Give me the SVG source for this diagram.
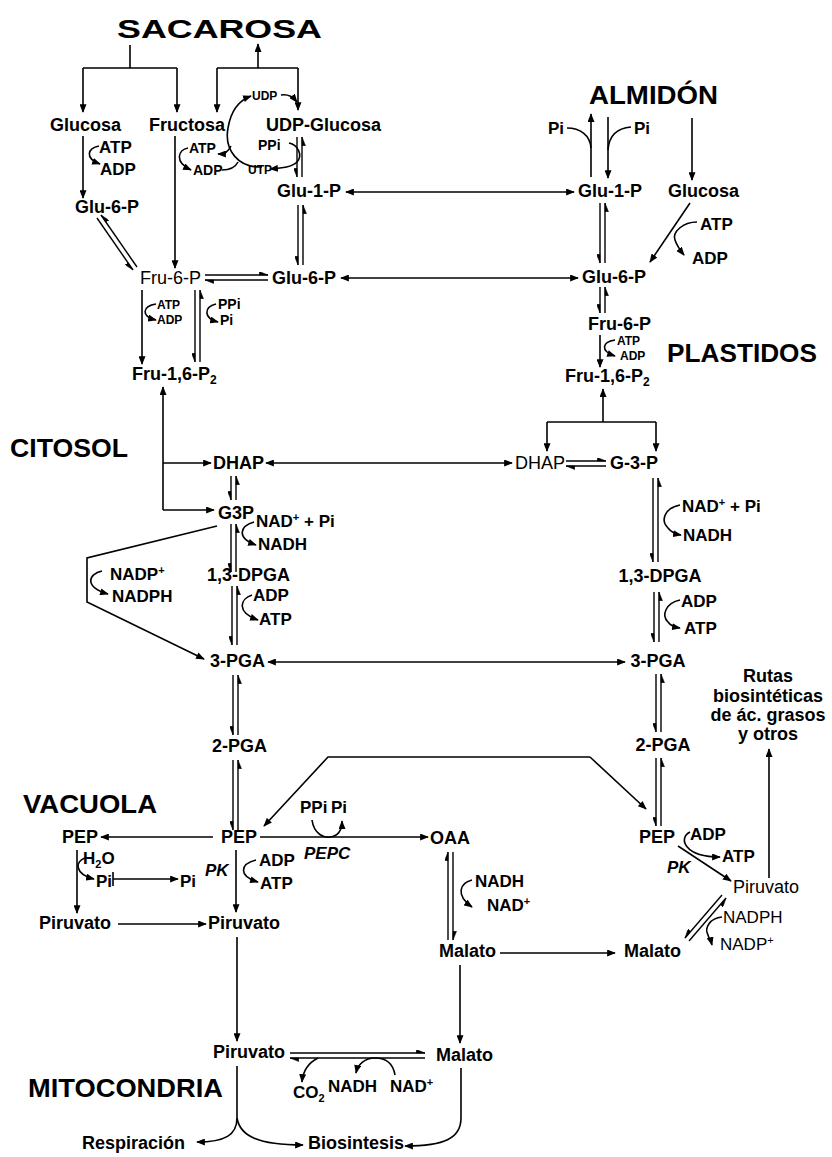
<svg xmlns="http://www.w3.org/2000/svg" width="832" height="1157" viewBox="0 0 832 1157">
<defs>
<marker id="ah" viewBox="0 0 10 8" refX="9" refY="4" markerWidth="9" markerHeight="7" markerUnits="userSpaceOnUse" orient="auto-start-reverse"><path d="M0,0 L10,4 L0,8 z" fill="#000"/></marker>
<marker id="hlo" viewBox="0 0 10 8" refX="10" refY="4" markerWidth="9" markerHeight="7" markerUnits="userSpaceOnUse" orient="auto"><path d="M0,4 L10,4 L0,8 z" fill="#000" stroke="#000" stroke-width="0.6"/></marker>
<marker id="hup" viewBox="0 0 10 8" refX="10" refY="4" markerWidth="9" markerHeight="7" markerUnits="userSpaceOnUse" orient="auto"><path d="M0,0 L10,4 L0,4 z" fill="#000" stroke="#000" stroke-width="0.6"/></marker>
<style>
.c{fill:none;stroke:#000;stroke-width:1.6}
.a{marker-end:url(#ah)}
.b{marker-start:url(#ah);marker-end:url(#ah)}
.h{fill:none;stroke:#000;stroke-width:1.4;marker-end:url(#hlo)}
.u{fill:none;stroke:#000;stroke-width:1.4;marker-end:url(#hup)}
text{font-family:"Liberation Sans",Arial,Helvetica,sans-serif;fill:#000}
.t{font-weight:bold;font-size:26px}
.n{font-weight:bold;font-size:18px}
.r{font-size:18px}
.f{font-weight:bold;font-size:17px}
.fr{font-size:17px}
.s{font-weight:bold;font-size:14px}
.x{font-weight:bold;font-size:12px}
.i{font-weight:bold;font-style:italic;font-size:17px}
.m{text-anchor:middle}
</style>
</defs>
<rect width="832" height="1157" fill="#fff"/>

<g id="titles">
<text class="t" x="117" y="38" font-size="33" textLength="205" lengthAdjust="spacingAndGlyphs">SACAROSA</text>
<text class="t" x="589" y="104" textLength="129" lengthAdjust="spacingAndGlyphs">ALMIDÓN</text>
<text class="t" x="667" y="362" textLength="150" lengthAdjust="spacingAndGlyphs">PLASTIDOS</text>
<text class="t" x="10" y="457" textLength="118" lengthAdjust="spacingAndGlyphs">CITOSOL</text>
<text class="t" x="23" y="813" textLength="134" lengthAdjust="spacingAndGlyphs">VACUOLA</text>
<text class="t" x="28" y="1097" textLength="195" lengthAdjust="spacingAndGlyphs">MITOCONDRIA</text>
</g>

<g id="n-glucosa"><text class="n" x="50" y="131">Glucosa</text></g>
<g id="n-fructosa"><text class="n" x="149" y="131">Fructosa</text></g>
<g id="n-udpglucosa"><text class="n" x="266" y="131">UDP-Glucosa</text></g>
<g id="n-udp"><text class="x" x="252" y="100">UDP</text></g>
<g id="n-ppi1"><text class="s" x="258" y="150">PPi</text></g>
<g id="n-utp"><text class="x" x="248" y="174">UTP</text></g>
<g id="n-atp-fr"><text class="s" x="189" y="153">ATP</text></g>
<g id="n-adp-fr"><text class="s" x="193" y="175">ADP</text></g>
<g id="n-atp-gl"><text class="f" x="99" y="153">ATP</text></g>
<g id="n-adp-gl"><text class="f" x="100" y="175">ADP</text></g>
<g id="n-glu6p-l"><text class="n" x="75" y="213">Glu-6-P</text></g>
<g id="n-glu1p-c"><text class="n" x="277" y="197">Glu-1-P</text></g>
<g id="n-fru6p-c"><text class="r" x="140" y="284">Fru-6-P</text></g>
<g id="n-glu6p-c"><text class="n" x="272" y="284">Glu-6-P</text></g>

<g id="n-pi-pl1"><text class="f" x="548" y="134">Pi</text></g>
<g id="n-pi-pl2"><text class="f" x="634" y="134">Pi</text></g>
<g id="n-glu1p-p"><text class="n" x="578" y="197">Glu-1-P</text></g>
<g id="n-glucosa-p"><text class="n" x="668" y="197">Glucosa</text></g>
<g id="n-atp-p1"><text class="f" x="700" y="230">ATP</text></g>
<g id="n-adp-p1"><text class="f" x="692" y="264">ADP</text></g>
<g id="n-glu6p-p"><text class="n" x="582" y="283">Glu-6-P</text></g>
<g id="n-fru6p-p"><text class="n" x="588" y="330">Fru-6-P</text></g>
<g id="n-atp-p2"><text class="x" x="617" y="345" font-size="11">ATP</text></g>
<g id="n-adp-p2"><text class="x" x="620" y="360" font-size="11">ADP</text></g>
<g id="n-fbp-p"><text class="n" x="565" y="382">Fru-1,6-P<tspan dy="4" font-size="12">2</tspan></text></g>
<g id="n-dhap-p"><text class="r" x="515" y="469">DHAP</text></g>
<g id="n-g3p-p"><text class="n" x="610" y="469">G-3-P</text></g>
<g id="n-nad-p"><text class="f" x="682" y="512">NAD<tspan dy="-6" font-size="11">+</tspan><tspan dy="6"> + Pi</tspan></text></g>
<g id="n-nadh-p"><text class="f" x="683" y="541">NADH</text></g>
<g id="n-dpga-p"><text class="n m" x="660" y="582">1,3-DPGA</text></g>
<g id="n-adp-p3"><text class="f" x="681" y="607">ADP</text></g>
<g id="n-atp-p3"><text class="f" x="684" y="634">ATP</text></g>
<g id="n-3pga-p"><text class="n m" x="658" y="667">3-PGA</text></g>
<g id="n-2pga-p"><text class="n m" x="663" y="751">2-PGA</text></g>
<g id="n-rutas"><text class="n m" x="768" y="682">Rutas</text><text class="n m" x="768" y="702">biosintéticas</text><text class="n m" x="768" y="721">de ác. grasos</text><text class="n m" x="768" y="740">y otros</text></g>
<g id="n-pep-p"><text class="n m" x="657" y="843">PEP</text></g>
<g id="n-adp-p4"><text class="f" x="690" y="840">ADP</text></g>
<g id="n-atp-p4"><text class="f" x="722" y="862">ATP</text></g>
<g id="n-pk-p"><text class="i" x="667" y="873">PK</text></g>
<g id="n-pir-p"><text class="r" x="733" y="893">Piruvato</text></g>
<g id="n-nadph-p"><text class="fr" x="723" y="923">NADPH</text></g>
<g id="n-nadp-p"><text class="fr" x="720" y="950">NADP<tspan dy="-6" font-size="11">+</tspan></text></g>
<g id="n-malato-r"><text class="n" x="624" y="957">Malato</text></g>

<g id="n-fbp-c"><text class="n" x="132" y="380">Fru-1,6-P<tspan dy="4" font-size="12">2</tspan></text></g>
<g id="n-atp-c1"><text class="x" x="157" y="309" font-size="13">ATP</text></g>
<g id="n-adp-c1"><text class="x" x="157" y="324" font-size="13">ADP</text></g>
<g id="n-ppi-c1"><text class="s" x="218" y="309">PPi</text></g>
<g id="n-pi-c1"><text class="s" x="220" y="325">Pi</text></g>
<g id="n-dhap-c"><text class="n" x="213" y="469">DHAP</text></g>
<g id="n-g3p-c"><text class="n" x="218" y="519">G3P</text></g>
<g id="n-nad-c"><text class="f" x="256" y="527">NAD<tspan dy="-6" font-size="11">+</tspan><tspan dy="6"> + Pi</tspan></text></g>
<g id="n-nadh-c"><text class="f" x="258" y="550">NADH</text></g>
<g id="n-dpga-c"><text class="n" x="207" y="581">1,3-DPGA</text></g>
<g id="n-nadp-c"><text class="f" x="110" y="580">NADP<tspan dy="-6" font-size="11">+</tspan></text></g>
<g id="n-nadph-c"><text class="f" x="112" y="602">NADPH</text></g>
<g id="n-adp-c2"><text class="f" x="253" y="601">ADP</text></g>
<g id="n-atp-c2"><text class="f" x="259" y="625">ATP</text></g>
<g id="n-3pga-c"><text class="n" x="210" y="667">3-PGA</text></g>
<g id="n-2pga-c"><text class="n" x="212" y="752">2-PGA</text></g>
<g id="n-pep-c"><text class="n" x="221" y="843">PEP</text></g>
<g id="n-pep-v"><text class="n" x="62" y="843">PEP</text></g>
<g id="n-h2o"><text class="f" x="83" y="864">H<tspan dy="4" font-size="11">2</tspan><tspan dy="-4">O</tspan></text></g>
<g id="n-pi-v"><text class="f" x="96" y="887">Pi</text></g>
<g id="n-pi-c2"><text class="f" x="180" y="887">Pi</text></g>
<g id="n-pk-c"><text class="i" x="205" y="876">PK</text></g>
<g id="n-adp-c3"><text class="f" x="259" y="866">ADP</text></g>
<g id="n-atp-c3"><text class="f" x="260" y="889">ATP</text></g>
<g id="n-pir-v"><text class="n" x="39" y="929">Piruvato</text></g>
<g id="n-pir-c"><text class="n" x="208" y="929">Piruvato</text></g>
<g id="n-ppi-pi"><text class="f" x="300" y="813">PPi</text><text class="f" x="331" y="813">Pi</text></g>
<g id="n-pepc"><text class="i" x="304" y="859">PEPC</text></g>
<g id="n-oaa"><text class="n" x="430" y="844">OAA</text></g>
<g id="n-nadh-o"><text class="f" x="475" y="887">NADH</text></g>
<g id="n-nad-o"><text class="f" x="487" y="911">NAD<tspan dy="-6" font-size="11">+</tspan></text></g>
<g id="n-malato-c"><text class="n" x="439" y="957">Malato</text></g>
<g id="n-pir-m"><text class="n" x="213" y="1058">Piruvato</text></g>
<g id="n-malato-m"><text class="n" x="436" y="1061">Malato</text></g>
<g id="n-co2"><text class="f" x="293" y="1098">CO<tspan dy="4" font-size="11">2</tspan></text></g>
<g id="n-nadh-m"><text class="f" x="328" y="1092">NADH</text></g>
<g id="n-nad-m"><text class="f" x="390" y="1092">NAD<tspan dy="-6" font-size="11">+</tspan></text></g>
<g id="n-resp"><text class="n" x="82" y="1149">Respiración</text></g>
<g id="n-bios"><text class="n" x="308" y="1149">Biosintesis</text></g>

<g id="connectors">
<path class="c" d="M130,45 V68 M83,68 H177 M217,68 H298"/>
<path class="c a" d="M83,68 V112"/>
<path class="c a" d="M177,68 V112"/>
<path class="c a" d="M258,68 V44"/>
<path class="c a" d="M217,68 V112"/>
<path class="c a" d="M298,68 V110"/>
<path class="c a" d="M83,136 V198"/>
<path class="c a" d="M99,146 C88,148 84,158 100,164"/>
<path class="c a" d="M175,136 V268"/>
<path class="c a" d="M188,148 C178,150 174,162 191,170"/>
<path class="c a" d="M262,167 C238,168 224,150 228,128 C231,110 240,100 251,96"/>
<path class="c a" d="M231,146 C228,152 225,154 218,154"/>
<path class="c" d="M222,170 C232,170 236,166 238,162"/>
<path class="c a" d="M281,95 C289,94 293,97 297,102"/>
<path class="c a" d="M289,143 C298,145 303,155 297,162 C292,167 283,168 270,169"/>
<path class="h" d="M297,137 V177"/>
<path class="h" d="M302,177 V137"/>
<path class="h" d="M298,205 V265"/>
<path class="h" d="M303,265 V205"/>
<path class="h" d="M97,218 L133,270"/>
<path class="h" d="M137,267 L101,215"/>
<path class="u" d="M205,275 H268"/>
<path class="u" d="M268,280 H205"/>
<path class="c b" d="M346,192 H574"/>
<path class="c b" d="M341,278 H578"/>

<path class="c a" d="M591,177 V114"/>
<path class="c" d="M567,128 C580,128 590,135 591,148"/>
<path class="c a" d="M608,117 V178"/>
<path class="c" d="M631,127 C618,128 609,135 608,150"/>
<path class="c a" d="M692,118 V180"/>
<path class="h" d="M600,203 V263"/>
<path class="h" d="M605,263 V203"/>
<path class="c a" d="M690,203 L650,262"/>
<path class="c a" d="M697,222 C683,222 672,232 675,240 C677,246 680,250 684,255"/>
<path class="h" d="M600,287 V313"/>
<path class="h" d="M605,313 V287"/>
<path class="c a" d="M600,335 V367"/>
<path class="c a" d="M615,340 C602,342 600,351 615,356"/>
<path class="c a" d="M603,422 V389"/>
<path class="c" d="M547,422 H656"/>
<path class="c a" d="M547,422 V451"/>
<path class="c a" d="M656,422 V451"/>
<path class="u" d="M566,461 H606"/>
<path class="u" d="M606,466 H566"/>
<path class="h" d="M653,478 V562"/>
<path class="h" d="M658,562 V478"/>
<path class="c a" d="M680,505 C665,508 660,520 668,528 C671,532 675,534 681,535"/>
<path class="h" d="M654,592 V642"/>
<path class="h" d="M659,642 V592"/>
<path class="c a" d="M680,600 C666,603 661,615 668,622 C670,625 674,627 680,628"/>
<path class="c b" d="M268,662 H625"/>
<path class="h" d="M656,674 V732"/>
<path class="h" d="M661,732 V674"/>
<path class="h" d="M656,758 V826"/>
<path class="h" d="M661,826 V758"/>
<path class="c a" d="M678,846 L731,881"/>
<path class="c a" d="M690,832 C678,838 684,857 720,857"/>
<path class="c a" d="M769,878 V749"/>
<path class="h" d="M722,895 L685,938"/>
<path class="h" d="M689,941 L726,898"/>
<path class="c a" d="M722,917 C710,918 704,928 708,935 C709,939 711,941 712,945"/>

<path class="c a" d="M142,290 V364"/>
<path class="c a" d="M156,304 C143,306 140,316 156,320"/>
<path class="h" d="M195,290 V362"/>
<path class="h" d="M200,362 V290"/>
<path class="c a" d="M216,304 C204,307 203,318 218,322"/>
<path class="c a" d="M163,510 V387"/>
<path class="c a" d="M163,463 H211"/>
<path class="c a" d="M163,510 H214"/>
<path class="c b" d="M266,463 H512"/>
<path class="h" d="M231,476 V500"/>
<path class="h" d="M236,500 V476"/>
<path class="h" d="M231,524 V572"/>
<path class="h" d="M236,572 V524"/>
<path class="c a" d="M254,522 C240,526 236,538 256,545"/>
<path class="c a" d="M217,526 L87,558 L87,602 L204,659"/>
<path class="c a" d="M102,571 C88,574 84,587 108,594"/>
<path class="h" d="M232,586 V645"/>
<path class="h" d="M237,645 V586"/>
<path class="c a" d="M252,595 C240,599 236,612 258,620"/>
<path class="h" d="M233,675 V735"/>
<path class="h" d="M238,735 V675"/>
<path class="h" d="M233,760 V830"/>
<path class="h" d="M238,830 V760"/>
<path class="c a" d="M590,757 H328 L264,826"/>
<path class="c a" d="M590,757 L646,809"/>
<path class="c a" d="M213,837 H101"/>
<path class="c a" d="M260,837 H428"/>
<path class="c a" d="M312,820 C314,835 325,838 330,837 C338,836 342,830 342,821"/>
<path class="c a" d="M77,850 V913"/>
<path class="c a" d="M85,858 C75,861 74,874 94,879"/>
<path class="c" d="M113,872 V886"/>
<path class="c a" d="M113,879 H178"/>
<path class="c a" d="M236,850 V912"/>
<path class="c a" d="M256,860 C240,864 238,876 258,882"/>
<path class="c a" d="M118,924 H206"/>
<path class="c a" d="M237,937 V1041"/>
<path class="u" d="M448,940 V852"/>
<path class="u" d="M453,852 V940"/>
<path class="c a" d="M472,880 C460,883 455,895 472,907"/>
<path class="c a" d="M500,953 H615"/>
<path class="c a" d="M460,965 V1043"/>
<path class="u" d="M290,1053 H425"/>
<path class="u" d="M425,1058 H290"/>
<path class="c a" d="M318,1058 C310,1062 303,1070 302,1082"/>
<path class="c a" d="M395,1075 C393,1063 385,1058 375,1058 C365,1058 358,1064 356,1073"/>
<path class="c" d="M237,1066 V1118"/>
<path class="c a" d="M237,1118 C237,1135 225,1142 197,1142"/>
<path class="c a" d="M237,1118 C240,1136 258,1145 303,1145"/>
<path class="c a" d="M461,1068 V1118 C461,1138 445,1146 405,1146"/>
</g>
</svg>
